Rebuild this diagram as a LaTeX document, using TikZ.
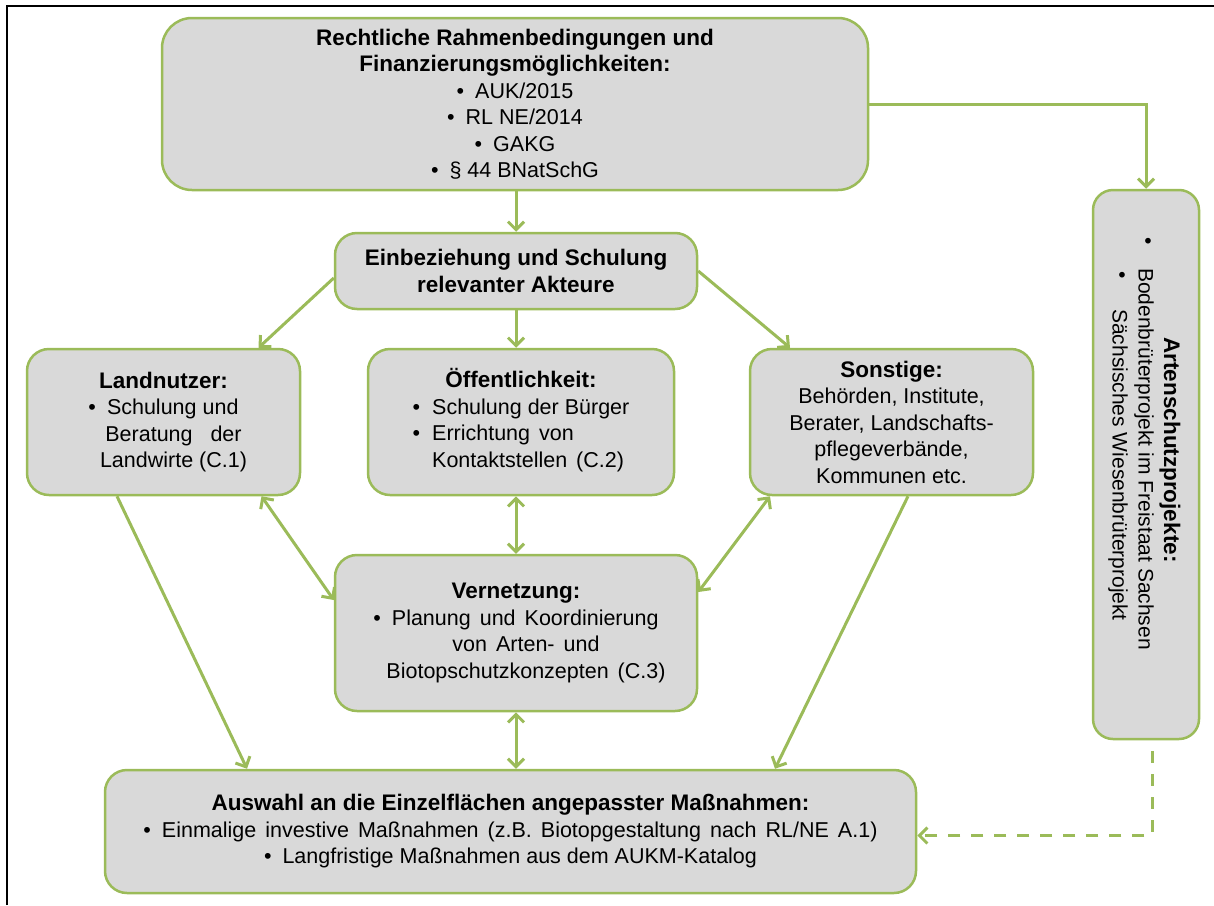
\documentclass[tikz,border=0pt]{standalone}
\usepackage{fontspec}
\setmainfont{Liberation Sans}
\usetikzlibrary{arrows.meta}
\definecolor{lgreen}{HTML}{9BBB59}
\definecolor{boxgray}{HTML}{D9D9D9}
\newcommand{\bul}{\textbullet\hspace{11pt}}
\newcommand{\hd}[1]{{\fontsize{22.5}{26.5}\selectfont\bfseries #1}}
\newcommand{\wsp}[1]{{\spaceskip=9pt plus 1pt\relax #1}}
\begin{document}
\begin{tikzpicture}[x=1pt,y=-1pt,
  box/.style={draw=lgreen, fill=boxgray, line width=2.5pt, rounded corners=22pt,
    inner sep=0pt, align=center, font=\fontsize{21.5}{26.5}\selectfont},
  vtext/.style={rotate=-90, inner sep=0pt, font=\fontsize{21}{26.5}\selectfont},
  tip/.tip={Straight Barb[length=8pt,width=16pt]},
  conn/.style={draw=lgreen, line width=3pt, -tip},
  both/.style={draw=lgreen, line width=3pt, tip-tip},
  dconn/.style={conn, dash pattern=on 12pt off 11pt}
]
\useasboundingbox (0,0) rectangle (1214,905);
\draw[line width=2pt] (6.5,905) -- (6.5,5.5) -- (1214,5.5);

\node[box, rounded corners=30pt, minimum width=706pt, minimum height=172pt] (top) at (515,104)
  {\hd{Rechtliche Rahmenbedingungen und}\\ \hd{Finanzierungsmöglichkeiten:}\\
   \bul AUK/2015\\ \bul RL NE/2014\\ \bul GAKG\\ \bul § 44 BNatSchG};
\node[box, minimum width=362pt, minimum height=76pt] (einb) at (516,271)
  {\hd{Einbeziehung und Schulung}\\ \hd{relevanter Akteure}};
\node[box, minimum width=273pt, minimum height=146pt] (land) at (163.5,422)
  {\hd{Landnutzer:}\\ \bul Schulung und\\ \hspace{20pt}Beratung\ \ \ der\\ \hspace{20pt}Landwirte (C.1)};
\node[box, minimum width=306pt, minimum height=146pt] (oeff) at (521,422)
  {\hd{Öffentlichkeit:}\\ \begin{tabular}[t]{@{}l@{\hspace{12pt}}l@{}}\textbullet&Schulung der Bürger\\ \textbullet&\wsp{Errichtung von}\\ &\wsp{Kontaktstellen (C.2)}\end{tabular}};
\node[box, minimum width=283pt, minimum height=146pt] (sons) at (891.5,422)
  {\hd{Sonstige:}\\ Behörden, Institute,\\ Berater, Landschafts-\\ pflegeverbände,\\ Kommunen etc.};
\node[box, minimum width=362pt, minimum height=156pt] (vern) at (516,633)
  {\hd{Vernetzung:}\\ \bul \wsp{Planung und Koordinierung}\\ \hspace{20pt}\wsp{von Arten- und}\\ \hspace{20pt}\wsp{Biotopschutzkonzepten (C.3)}};
\node[box, minimum width=811pt, minimum height=123pt] (ausw) at (510.5,831.5)
  {\hd{Auswahl an die Einzelflächen angepasster Maßnahmen:}\\
   \bul \wsp{Einmalige investive Maßnahmen (z.B. Biotopgestaltung nach RL/NE A.1)}\\
   \bul Langfristige Maßnahmen aus dem AUKM-Katalog};
\node[box, rounded corners=20pt, minimum width=106pt, minimum height=549pt] (arten) at (1146,464.5) {};
\node[vtext, font=\fontsize{22.5}{26.5}\selectfont\bfseries] (at1) at (1170,450) {Artenschutzprojekte:};
\node[vtext] (at2) at (1144,459) {Bodenbrüterprojekt im Freistaat Sachsen};
\node[vtext] (at3) at (1118,465) {Sächsisches Wiesenbrüterprojekt};
\node[vtext] (ab1) at (1146,241) {\textbullet};
\node[vtext] (ab2) at (1120,275) {\textbullet};

\draw[conn] (einb.north |- top.south) -- (einb.north);
\draw[conn] (top.east) -| (arten.north);
\draw[conn] ([yshift=-7pt]einb.west) -- ([xshift=95pt]land.north);
\draw[conn] (einb.south) -- (einb.south |- oeff.north);
\draw[conn] (einb.east) -- ([xshift=-101.5pt]sons.north);
\draw[both] ([xshift=98pt]land.south) -- ([yshift=33pt]vern.west);
\draw[both] (vern.north |- oeff.south) -- (vern.north);
\draw[both] ([xshift=-121.5pt]sons.south) -- ([yshift=41pt]vern.east);
\draw[conn] ([xshift=-46.5pt]land.south) -- ([xshift=-263.5pt]ausw.north);
\draw[conn] ([xshift=16.5pt]sons.south) -- ([xshift=264.5pt]ausw.north);
\draw[both] (vern.south) -- (vern.south |- ausw.north);
\draw[dconn, shorten <=11pt] ([xshift=6pt]arten.south) |- ([yshift=-4pt]ausw.east);
\end{tikzpicture}
\end{document}
